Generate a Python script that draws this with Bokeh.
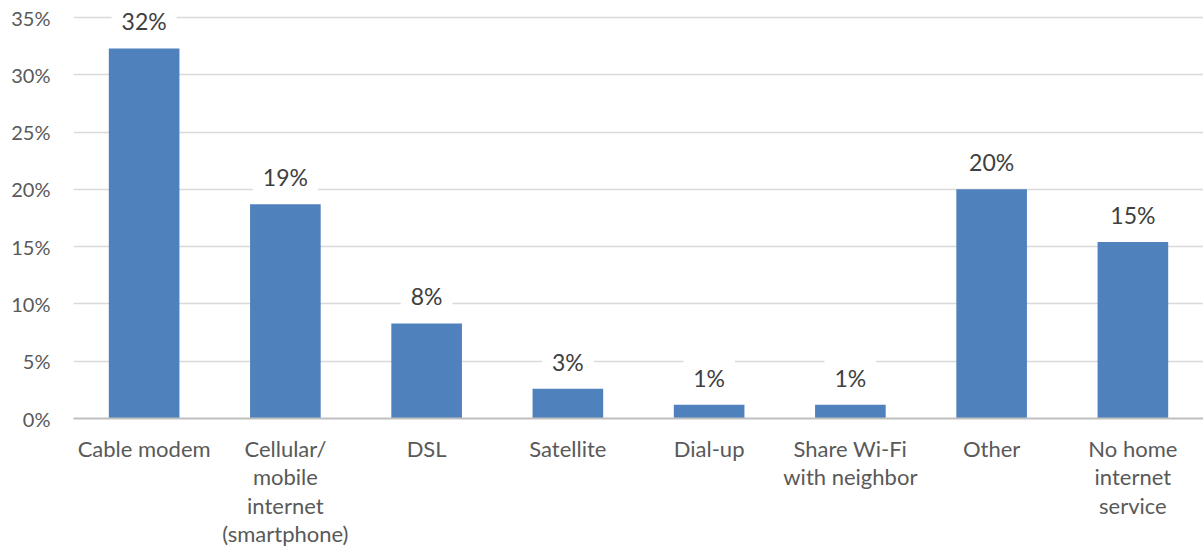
from bokeh.plotting import figure
from bokeh.models import ColumnDataSource, NumeralTickFormatter, FixedTicker
from bokeh.core.properties import value
from bokeh.embed import file_html
from bokeh.resources import INLINE

categories = ["Cable modem", "Cellular/\nmobile\ninternet\n(smartphone)", "DSL", "Satellite",
              "Dial-up", "Share Wi-Fi\nwith neighbor", "Other", "No home\ninternet\nservice"]
values = [0.323, 0.187, 0.083, 0.026, 0.012, 0.012, 0.200, 0.154]
y_ticks = [0, 0.05, 0.10, 0.15, 0.20, 0.25, 0.30, 0.35]

FONT = "Lato"
TXT = "#595959"

labels = [f"{int(v * 100 + 0.5)}%" for v in values]
src = ColumnDataSource(dict(cat=categories, val=values, lab=labels))

# frame spans 0..418 px vertically; the 35% gridline sits 17 px below the top
y_top = 0.35 * 418 / 401

p = figure(width=1203, height=551, x_range=categories, y_range=(0, y_top),
           output_backend="svg", toolbar_location=None,
           min_border_left=73, min_border_right=0, min_border_top=0, min_border_bottom=133)
p.outline_line_color = None
p.background_fill_color = "white"

p.vbar(x="cat", top="val", width=0.5, source=src, color="#4F81BD", line_color=None)

p.yaxis.ticker = FixedTicker(ticks=y_ticks)
p.yaxis.formatter = NumeralTickFormatter(format="0%")
p.yaxis.axis_line_color = None
p.yaxis.major_tick_line_color = None
p.yaxis.minor_tick_line_color = None
p.yaxis.major_label_text_font = FONT
p.yaxis.major_label_text_font_size = "20px"
p.yaxis.major_label_text_color = TXT
p.yaxis.major_label_standoff = 17

p.xaxis.axis_line_color = "#BFBFBF"
p.xaxis.axis_line_width = 2
p.xaxis.major_tick_line_color = None
p.xaxis.minor_tick_line_color = None
p.xaxis.major_label_text_font = FONT
p.xaxis.major_label_text_font_size = "22px"
p.xaxis.major_label_text_color = TXT
p.xaxis.major_label_text_line_height = 1.06
p.xaxis.major_label_standoff = 10

p.xgrid.grid_line_color = None
p.ygrid.grid_line_color = "#D9D9D9"
p.ygrid.grid_line_width = 1.5

p.text(x="cat", y="val", text="lab", source=src, text_align="center",
       text_baseline="bottom", y_offset=-3, text_font=value(FONT),
       text_font_size="23px", text_color="#404040",
       background_fill_color="white", padding=10)

open("out.html", "w").write(file_html(p, INLINE))
